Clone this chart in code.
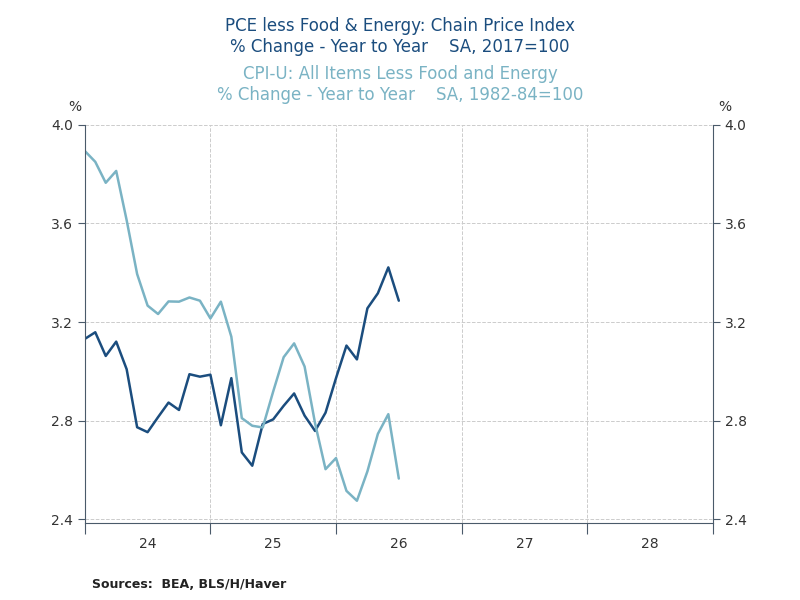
import numpy as np, pandas as pd, matplotlib
matplotlib.use("Agg")
import matplotlib.pyplot as plt, seaborn as sns

months = list(range(31))  # months since Jan 2024
pce = [3.132,3.159,3.063,3.121,3.009,2.774,2.754,2.815,2.874,2.844,2.989,2.979,2.987,2.782,2.973,2.672,2.618,2.787,2.806,2.861,2.911,2.821,2.759,2.833,2.973,3.105,3.049,3.256,3.317,3.422,3.287]
cpi = [3.894,3.850,3.765,3.813,3.613,3.395,3.267,3.233,3.284,3.283,3.300,3.287,3.215,3.283,3.141,2.811,2.780,2.773,2.919,3.058,3.114,3.020,2.790,2.604,2.649,2.516,2.476,2.595,2.747,2.827,2.566]
year_labels = ["24","25","26","27","28"]
yticks = [2.4,2.8,3.2,3.6,4.0]

dark = "#1b4d7e"; light = "#7ab3c4"; axc = "#4a5a6a"
sns.set_style("white")
df = pd.DataFrame({"m": months*2, "v": pce+cpi, "s": ["PCE"]*31+["CPI"]*31})

fig = plt.figure(figsize=(8,6), dpi=100)
ax = fig.add_axes([0.106, 0.128, 0.785, 0.664])
sns.lineplot(data=df, x="m", y="v", hue="s", palette={"PCE":dark,"CPI":light}, linewidth=1.8, ax=ax, legend=False)
ax.set_xlim(0,60); ax.set_ylim(2.385,4.0)
ax.set_xlabel(""); ax.set_ylabel("")
ax.set_yticks(yticks); ax.set_yticklabels([f"{t:.1f}" for t in yticks])
ax.set_xticks([0,12,24,36,48,60]); ax.set_xticklabels([])
ax.set_xticks([6,18,30,42,54], minor=True)
ax.set_xticklabels(year_labels, minor=True)
ax.tick_params(axis="x", which="major", length=8, color=axc, direction="out", bottom=True)
ax.tick_params(axis="x", which="minor", length=0, labelsize=10, labelcolor="#333333", pad=10)
ax.tick_params(axis="y", length=5, color=axc, labelsize=10, labelcolor="#333333", left=True, right=True, labelright=True)
ax.grid(True, which="major", color="#cccccc", linestyle="--", linewidth=0.7)
for s in ["left","right","bottom"]:
    ax.spines[s].set_color(axc); ax.spines[s].set_visible(True)
ax.spines["top"].set_visible(False)
fig.text(0.085, 0.815, "%", fontsize=10, color="#333333")
fig.text(0.898, 0.815, "%", fontsize=10, color="#333333")
fig.text(0.5, 0.948, "PCE less Food & Energy: Chain Price Index", ha="center", color=dark, fontsize=12)
fig.text(0.5, 0.913, "% Change - Year to Year    SA, 2017=100", ha="center", color=dark, fontsize=12)
fig.text(0.5, 0.868, "CPI-U: All Items Less Food and Energy", ha="center", color=light, fontsize=12)
fig.text(0.5, 0.833, "% Change - Year to Year    SA, 1982-84=100", ha="center", color=light, fontsize=12)
fig.text(0.115, 0.02, "Sources:  BEA, BLS/H/Haver", fontsize=9, fontweight="bold", color="#222222")
fig.savefig("out.png", dpi=100)
